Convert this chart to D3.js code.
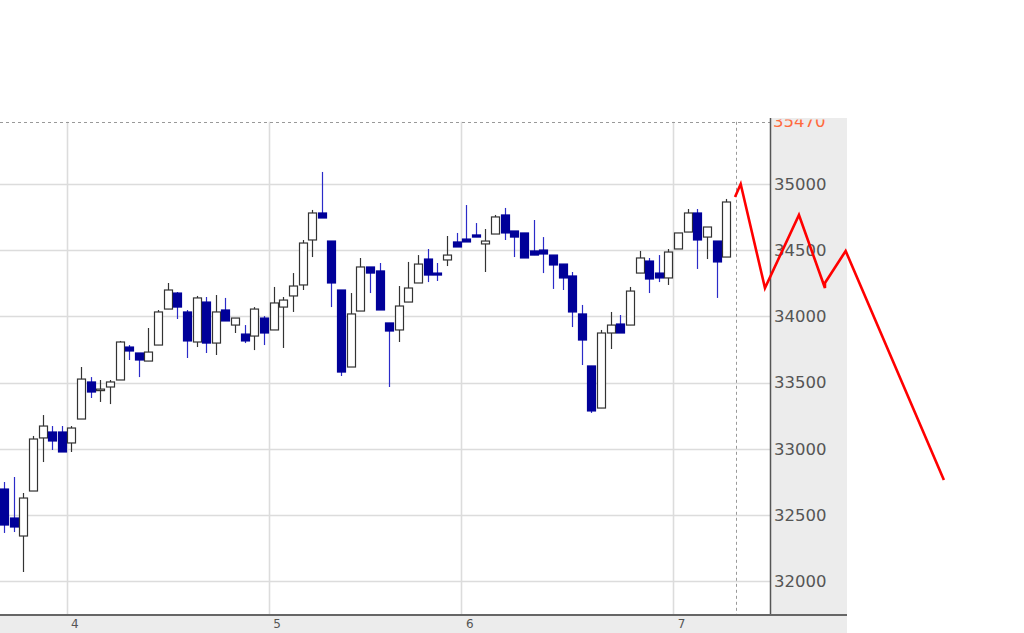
<!DOCTYPE html>
<html><head><meta charset="utf-8">
<script src="https://cdn.jsdelivr.net/npm/d3@7/dist/d3.min.js"></script>
<style>html,body{margin:0;padding:0;background:#fff;}svg{display:block;}</style>
</head><body><svg id="c" width="1024" height="633"></svg>
<script>
// ---- data ----
const opens  = [32695,32476,32340,32680,33081,33126,33126,33043,33224,33504,33445,33466,33519,33768,33723,33662,33783,34055,34176,34033,33806,34108,33798,34048,33934,33866,33851,33987,33897,34070,34154,34237,34577,34781,34569,34199,33617,34040,34373,34343,33950,33897,34108,34252,34433,34327,34426,34562,34584,34615,34547,34622,34766,34645,34630,34494,34501,34463,34395,34305,34018,33625,33307,33874,33942,33934,34327,34418,34327,34290,34509,34637,34781,34599,34569,34448];
const highs  = [32748,32786,32665,33096,33254,33171,33171,33171,33617,33541,33519,33519,33814,33783,33723,33912,34048,34252,34184,34048,34154,34146,34161,34139,33987,33934,34070,34002,34222,34146,34327,34577,34804,35091,34569,34199,34176,34441,34373,34403,33950,34229,34411,34463,34509,34403,34607,34630,34841,34705,34660,34766,34819,34645,34630,34728,34599,34463,34395,34335,34086,33625,33897,34033,34010,34222,34494,34441,34463,34509,34630,34811,34811,34675,34569,34887];
const lows   = [32363,32370,32068,32680,32899,32990,32975,32975,33224,33383,33353,33337,33519,33670,33541,33662,33783,34055,33980,33685,33768,33723,33708,33965,33874,33798,33745,33783,33897,33761,34033,34199,34448,34743,34070,33549,33617,34040,34176,34048,33466,33806,34108,34252,34259,34267,34380,34524,34562,34599,34335,34622,34577,34448,34441,34463,34327,34207,34199,33919,33632,33270,33307,33753,33874,33934,34327,34176,34259,34237,34509,34637,34358,34433,34139,34448];
const closes = [32423,32408,32627,33073,33171,33058,32975,33156,33526,33428,33450,33504,33806,33738,33670,33730,34033,34199,34070,33814,34139,33798,34033,33965,33987,33814,34055,33874,34101,34123,34229,34554,34781,34743,34252,33579,34018,34373,34327,34048,33889,34078,34214,34395,34312,34312,34463,34524,34562,34599,34569,34751,34630,34599,34441,34463,34471,34388,34290,34033,33821,33285,33874,33934,33874,34191,34441,34282,34290,34486,34630,34781,34577,34675,34411,34864];
const dayLabels = ["4","5","6","7"];
const dayStarts = [7, 28, 48, 70];           // index of first candle of each day
const yTicks = [32000,32500,33000,33500,34000,34500,35000];
const topLevel = 35470;
const cursorIndex = 76;
const forecastIdx   = [75.91, 76.5, 79.02, 82.55, 85.25, 85.25, 87.4, 97.6];
const forecastPrice = [34902, 35000, 34214, 34766, 34214, 34252, 34494, 32763];

// ---- layout ----
const svg = d3.select("#c");
const plotL = 0, plotR = 770, plotT = 118, plotB = 615, panelR = 847;
const x = d3.scaleLinear().domain([0, 75]).range([4, 726.25]);
const y = d3.scaleLinear().domain([32000, 35000]).range([581, 184]);

// panels
svg.append("rect").attr("x", plotR).attr("y", plotT).attr("width", panelR - plotR).attr("height", 633 - plotT).attr("fill", "#ececec");
svg.append("rect").attr("x", 0).attr("y", plotB).attr("width", panelR).attr("height", 633 - plotB).attr("fill", "#ececec");

const defs = svg.append("defs");
defs.append("clipPath").attr("id", "pc")
  .append("rect").attr("x", plotL).attr("y", plotT).attr("width", plotR - plotL).attr("height", plotB - plotT);
defs.append("clipPath").attr("id", "tc")
  .append("rect").attr("x", plotR).attr("y", 119.5).attr("width", panelR - plotR).attr("height", 40);

const g = svg.append("g").attr("clip-path", "url(#pc)");

// horizontal grid
g.selectAll("line.hg").data(yTicks).join("line")
  .attr("x1", plotL).attr("x2", plotR)
  .attr("y1", d => Math.round(y(d)) + 0.5).attr("y2", d => Math.round(y(d)) + 0.5)
  .attr("stroke", "#dcdcdc").attr("stroke-width", 1.6);

// vertical day grid
const dayX = d => x(d - 0.5);
g.selectAll("line.vg").data(dayStarts).join("line")
  .attr("x1", d => Math.round(dayX(d)) + 0.5).attr("x2", d => Math.round(dayX(d)) + 0.5)
  .attr("y1", y(topLevel)).attr("y2", plotB)
  .attr("stroke", "#dcdcdc").attr("stroke-width", 1.6);

// top dotted level line
g.append("line").attr("x1", plotL).attr("x2", plotR)
  .attr("y1", Math.round(y(topLevel)) + 0.5).attr("y2", Math.round(y(topLevel)) + 0.5)
  .attr("stroke", "#999").attr("stroke-width", 1).attr("stroke-dasharray", "3,3");

// cursor dotted vertical
g.append("line").attr("x1", Math.round(x(cursorIndex)) + 0.5).attr("x2", Math.round(x(cursorIndex)) + 0.5)
  .attr("y1", y(topLevel)).attr("y2", plotB)
  .attr("stroke", "#999").attr("stroke-width", 1).attr("stroke-dasharray", "3,3");

// candles
const candles = opens.map((o, i) => ({i, o, h: highs[i], l: lows[i], c: closes[i]}));
const cg = g.selectAll("g.candle").data(candles).join("g");
cg.append("line")
  .attr("x1", d => Math.round(x(d.i)) + 0.5).attr("x2", d => Math.round(x(d.i)) + 0.5)
  .attr("y1", d => y(d.h)).attr("y2", d => y(d.l))
  .attr("stroke", d => d.c >= d.o ? "#333" : "#2b2bc8").attr("stroke-width", 1.2);
cg.append("rect")
  .attr("x", d => Math.round(x(d.i)) - 3.5)
  .attr("y", d => y(Math.max(d.o, d.c)))
  .attr("width", 8)
  .attr("height", d => Math.max(1.5, Math.abs(y(d.o) - y(d.c))))
  .attr("fill", d => d.c >= d.o ? "#fff" : "#000099")
  .attr("stroke", d => d.c >= d.o ? "#333" : "#000099")
  .attr("stroke-width", 1.2);

// axes lines
svg.append("line").attr("x1", plotR + 0.5).attr("x2", plotR + 0.5).attr("y1", plotT).attr("y2", plotB)
  .attr("stroke", "#555").attr("stroke-width", 1.5);
svg.append("line").attr("x1", 0).attr("x2", panelR).attr("y1", plotB).attr("y2", plotB)
  .attr("stroke", "#666").attr("stroke-width", 2);

// y tick labels
svg.selectAll("text.yt").data(yTicks).join("text")
  .attr("x", 774).attr("y", d => y(d)).attr("dy", "0.36em")
  .attr("font-family", "DejaVu Sans, sans-serif").attr("font-size", 16.5)
  .attr("fill", "#555").text(d => d);

// top level label (clipped)
svg.append("text").attr("clip-path", "url(#tc)")
  .attr("x", 773).attr("y", y(topLevel)).attr("dy", "0.34em")
  .attr("font-family", "DejaVu Sans, sans-serif").attr("font-size", 16.5)
  .attr("fill", "#ff6a3d").text(topLevel);

// day labels
svg.selectAll("text.dl").data(dayStarts).join("text")
  .attr("x", d => dayX(d) + 4.5).attr("y", 628)
  .attr("font-family", "DejaVu Sans, sans-serif").attr("font-size", 12)
  .attr("fill", "#555").text((d, k) => dayLabels[k]);

// forecast red line
const fpts = forecastIdx.map((v, k) => [x(v), y(forecastPrice[k])]);
svg.append("path").attr("d", d3.line()(fpts))
  .attr("fill", "none").attr("stroke", "#ff0000").attr("stroke-width", 2.6)
  .attr("stroke-linejoin", "miter");
</script></body></html>
